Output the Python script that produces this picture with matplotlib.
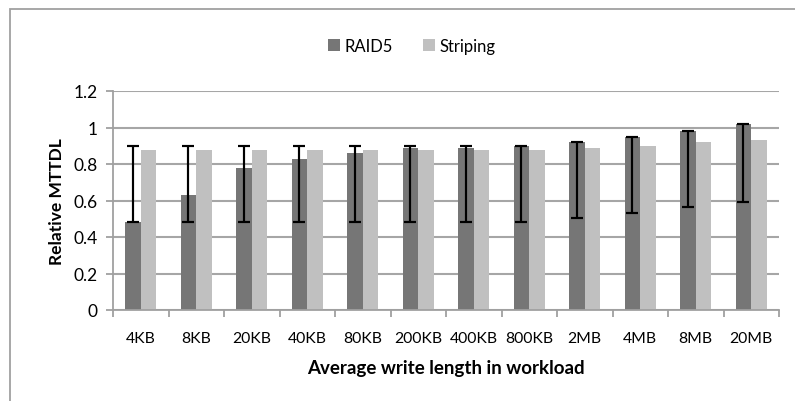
import numpy as np
import matplotlib.pyplot as plt
from matplotlib.patches import Rectangle

plt.rcParams['font.family'] = ['Lato', 'DejaVu Sans']

sizes = ["4KB", "8KB", "20KB", "40KB", "80KB", "200KB", "400KB", "800KB",
         "2MB", "4MB", "8MB", "20MB"]
raid5 = [0.48, 0.63, 0.78, 0.83, 0.86, 0.89, 0.89, 0.90, 0.92, 0.95, 0.98, 1.02]
striping = [0.876, 0.876, 0.876, 0.876, 0.876, 0.876, 0.876, 0.876,
            0.886, 0.896, 0.92, 0.93]
# lower / upper bounds of the RAID5 range
raid5_low = [0.48, 0.48, 0.48, 0.48, 0.48, 0.48, 0.48, 0.48, 0.505, 0.53, 0.563, 0.594]
raid5_high = [0.898, 0.898, 0.898, 0.898, 0.898, 0.898, 0.898, 0.898, 0.92, 0.95, 0.98, 1.02]


def main():
    fig = plt.figure(figsize=(7.95, 4.02), dpi=100)
    ax = fig.add_axes([113 / 795, 1 - 311 / 402, (779 - 113) / 795, (311 - 92) / 402])

    # chart border (left and top edge visible)
    fig.patches.append(Rectangle((10 / 795, -0.1), 1.2, (392 / 402) + 0.1,
                                 transform=fig.transFigure, fill=False,
                                 edgecolor="#a0a0a0", linewidth=1.3))

    x = np.arange(len(sizes))
    w = 0.28
    low = np.array(raid5_low)
    span = np.array(raid5_high) - low
    ax.bar(x - w / 2, raid5, w, color="#767676", label="RAID5", zorder=2)
    ax.bar(x + w / 2, striping, w, color="#c0c0c0", label="Striping", zorder=2)
    # range bars: one errorbar from the low end up, one from the high end down,
    # so both ends get a cap
    ax.errorbar(x - w / 2, low, yerr=[np.zeros_like(span), span], fmt="none",
                ecolor="black", elinewidth=1.5, capsize=4, capthick=1.5, zorder=3)
    ax.errorbar(x - w / 2, low + span, yerr=[span, np.zeros_like(span)], fmt="none",
                ecolor="black", elinewidth=1.5, capsize=4, capthick=1.5, zorder=3)

    ax.set_ylim(0, 1.2)
    ax.set_xlim(-0.5, len(sizes) - 0.5)
    ax.set_yticks(np.arange(0, 1.21, 0.2))
    ax.set_yticklabels(["0", "0.2", "0.4", "0.6", "0.8", "1", "1.2"])
    ax.yaxis.grid(True, color="#a6a6a6", linewidth=1.5, zorder=0)
    ax.set_axisbelow(True)

    ax.set_xticks(np.arange(-0.5, len(sizes), 1.0))
    ax.set_xticklabels([])
    ax.set_xticks(x, minor=True)
    ax.set_xticklabels(sizes, minor=True, fontsize=11.3)
    ax.tick_params(axis="x", which="minor", length=0, pad=15)
    ax.tick_params(axis="x", which="major", length=5, width=1.3, color="#a0a0a0")
    ax.tick_params(axis="y", length=5, width=1.3, color="#a0a0a0", labelsize=12.5, pad=6)

    for s in ["top", "right"]:
        ax.spines[s].set_visible(False)
    for s in ["left", "bottom"]:
        ax.spines[s].set_color("#a0a0a0")
        ax.spines[s].set_linewidth(1.3)

    ax.set_ylabel("Relative MTTDL", fontsize=12.5, fontweight="bold", labelpad=6)
    ax.set_xlabel("Average write length in workload", fontsize=13.5,
                  fontweight="bold", labelpad=10)

    fig.legend(loc="center", bbox_to_anchor=(412 / 795, 1 - 47 / 402), ncol=2,
               frameon=False, fontsize=12, handlelength=0.7, handleheight=0.7,
               columnspacing=1.8, handletextpad=0.3)

    fig.savefig("out.png", dpi=100)


if __name__ == "__main__":
    main()
